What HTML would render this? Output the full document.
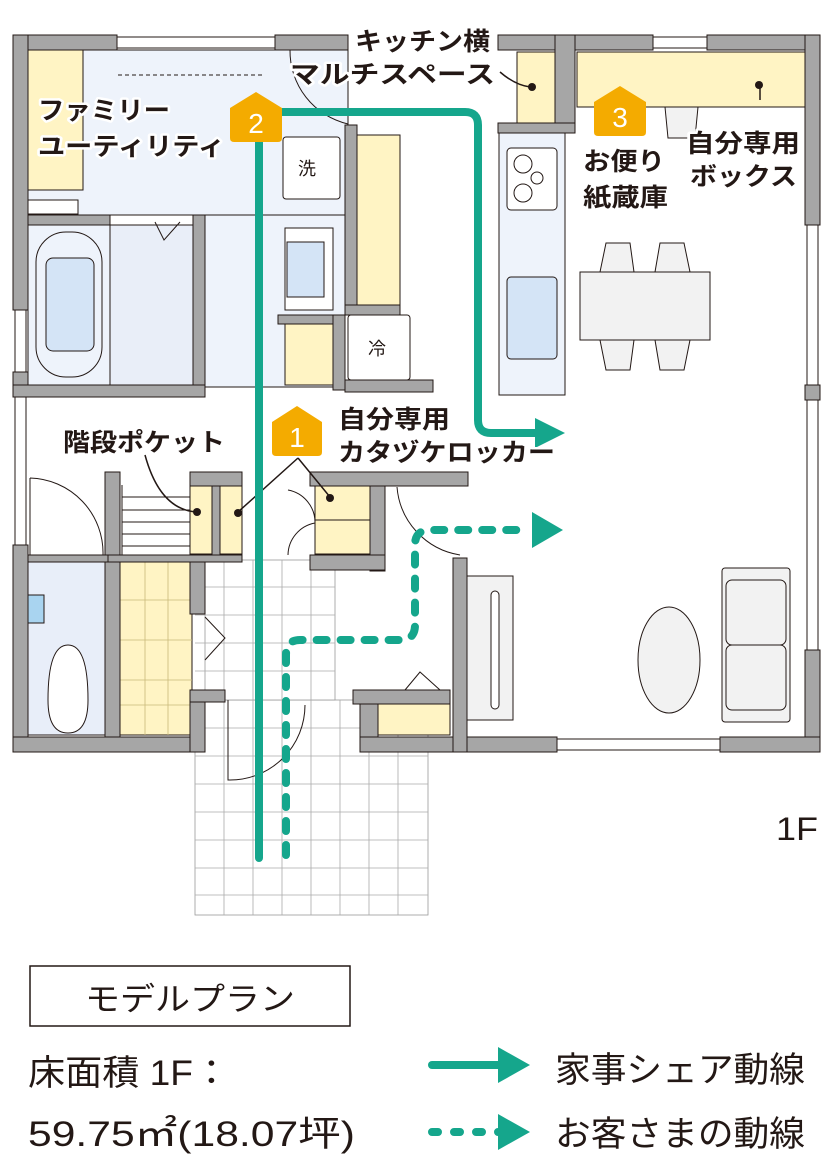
<!DOCTYPE html>
<html><head><meta charset="utf-8"><style>
html,body{margin:0;padding:0;background:#fff}
svg{display:block}
text{font-family:"Liberation Sans","Noto Sans CJK JP",sans-serif;fill:#231815}
</style></head><body>
<svg width="833" height="1172" viewBox="0 0 833 1172" xmlns="http://www.w3.org/2000/svg">
<g stroke="#231815" stroke-width="1">
<rect x="28" y="50" width="320" height="165" fill="#eef3fb"/>
<rect x="28" y="225" width="82" height="160" fill="#eef3fb"/>
<rect x="110" y="225" width="83" height="160" fill="#e9eef8"/>
<rect x="205" y="215" width="140" height="172" fill="#eef3fb"/>
<rect x="28" y="50" width="55" height="140" fill="#fff4c4"/>
<rect x="28" y="200" width="50" height="14" fill="#fff"/>
<rect x="28" y="562" width="78" height="173" fill="#e8eef9"/>
<g fill="#fff" stroke="#999" stroke-width="0.8">
<rect x="195" y="700" width="233" height="215"/>
<rect x="205" y="560" width="130" height="140"/>
</g>
<g stroke="#aaa" stroke-width="0.8">
<path d="M224 560V915M253 560V915M282 560V915M311 560V915M340 700V915M369 700V915M398 700V915M195 587H335M195 615H335M195 643H335M195 671H335M195 728H428M195 756H428M195 784H428M195 812H428M195 840H428M195 868H428M195 895H428"/>
</g>
<rect x="120" y="562" width="72" height="173" fill="#fff4c4"/>
<path d="M120 600H192M120 640H192M120 680H192M120 705H192M145 562V735M168 562V735" stroke="#c9b97a" stroke-width="0.8"/>
<rect x="190" y="486" width="22" height="68" fill="#fff4c4"/>
<rect x="220" y="486" width="22" height="68" fill="#fff4c4"/>
<rect x="315" y="486" width="55" height="68" fill="#fff4c4"/>
<path d="M315 520H370"/>
<rect x="378" y="697" width="72" height="38" fill="#fff4c4"/>
<rect x="357" y="135" width="43" height="170" fill="#fff4c4"/>
<rect x="285" y="322" width="48" height="63" fill="#fff4c4"/>
<rect x="517" y="52" width="38" height="71" fill="#fff4c4"/>
<rect x="577" y="52" width="228" height="55" fill="#fff4c4"/>
<rect x="499" y="133" width="66" height="262" fill="#eef3fb"/>
<rect x="507" y="148" width="50" height="62" rx="4" fill="#fff"/>
<circle cx="523" cy="164" r="9" fill="#fff"/><circle cx="537" cy="178" r="6" fill="#fff"/><circle cx="523" cy="193" r="9" fill="#fff"/>
<rect x="507" y="277" width="50" height="82" rx="4" fill="#d4e4f6"/>
<rect x="283" y="137" width="57" height="62" rx="3" fill="#fff"/>
<rect x="348" y="315" width="62" height="65" rx="3" fill="#fff"/>
<rect x="285" y="228" width="48" height="82" fill="#fff"/>
<rect x="287" y="242" width="37" height="55" fill="#d4e4f6"/>
<rect x="36" y="232" width="66" height="145" rx="30" fill="#eef3fb"/>
<rect x="46" y="258" width="48" height="93" rx="7" fill="#d4e4f6"/>
<path d="M48 700 Q48 645 68 645 Q88 645 88 700 Q88 733 68 733 Q48 733 48 700Z" fill="#fff"/>
<rect x="28" y="595" width="16" height="28" fill="#a9d4f0"/>
<rect x="580" y="272" width="130" height="68" fill="#f2f2f2"/>
<path d="M600 272 L606 243 H630 L634 272Z M655 272 L660 243 H684 L690 272Z M600 340 L606 370 H630 L634 340Z M655 340 L660 370 H684 L690 340Z" fill="#f2f2f2"/>
<path d="M665 107 L668 138 H695 L698 107Z" fill="#f2f2f2"/>
<rect x="467" y="576" width="46" height="144" fill="#f2f2f2"/>
<rect x="491" y="591" width="8" height="118" rx="4" fill="#fff"/>
<ellipse cx="669" cy="660" rx="31" ry="53" fill="#f2f2f2"/>
<rect x="722" y="568" width="68" height="154" rx="3" fill="#f2f2f2"/>
<rect x="726" y="580" width="60" height="65" rx="6" fill="#f2f2f2"/>
<rect x="726" y="645" width="60" height="65" rx="6" fill="#f2f2f2"/>
<path d="M122 485V555M122 497H190M122 510H190M122 522H190M122 534H190M122 546H190" fill="none"/>
<g fill="#a6a6a6">
<rect x="13" y="35" width="104" height="15"/>
<rect x="275" y="35" width="73" height="15"/>
<rect x="498" y="35" width="155" height="15"/>
<rect x="707" y="35" width="113" height="15"/>
<rect x="13" y="35" width="15" height="275"/>
<rect x="13" y="372" width="15" height="25"/>
<rect x="13" y="545" width="15" height="207"/>
<rect x="805" y="35" width="15" height="190"/>
<rect x="805" y="385" width="15" height="15"/>
<rect x="805" y="650" width="15" height="102"/>
<rect x="13" y="737" width="192" height="15"/>
<rect x="190" y="700" width="15" height="52"/>
<rect x="360" y="700" width="18" height="52"/>
<rect x="360" y="737" width="197" height="15"/>
<rect x="720" y="737" width="100" height="15"/>
<rect x="555" y="35" width="20" height="98"/>
<rect x="498" y="123" width="77" height="10"/>
<rect x="28" y="215" width="82" height="10"/>
<rect x="193" y="215" width="12" height="172"/>
<rect x="13" y="385" width="192" height="12"/>
<rect x="345" y="125" width="12" height="180"/>
<rect x="345" y="305" width="55" height="10"/>
<rect x="345" y="380" width="88" height="12"/>
<rect x="278" y="315" width="67" height="9"/>
<rect x="333" y="315" width="12" height="75"/>
<rect x="105" y="472" width="15" height="265"/>
<rect x="190" y="472" width="52" height="14"/>
<rect x="212" y="486" width="8" height="70"/>
<rect x="105" y="555" width="137" height="7"/>
<rect x="190" y="562" width="15" height="52"/>
<rect x="190" y="690" width="35" height="12"/>
<rect x="310" y="472" width="158" height="14"/>
<rect x="370" y="486" width="15" height="85"/>
<rect x="310" y="555" width="75" height="15"/>
<rect x="353" y="690" width="97" height="14"/>
<rect x="453" y="558" width="14" height="194"/>
<rect x="28" y="555" width="80" height="7"/>
</g>
<g fill="#fff">
<rect x="117" y="37" width="158" height="11"/>
<rect x="653" y="37" width="54" height="11"/>
<rect x="557" y="739" width="163" height="11"/>
<rect x="807" y="225" width="11" height="160"/>
<rect x="807" y="400" width="11" height="250"/>
<rect x="15" y="310" width="11" height="62"/>
<rect x="15" y="397" width="11" height="148"/>
</g>
<g fill="none">
<path d="M30 478 V555 M30 478 A75 75 0 0 1 103 555"/>
<path d="M397 487 A75 75 0 0 0 460 555"/>
<path d="M290 50 A75 75 0 0 0 348 124"/>
<path d="M228 700 V780 A75 75 0 0 0 305 705"/>
<path d="M288 490 A33 33 0 0 1 315 523 M288 555 A33 33 0 0 1 315 523"/>
<path d="M118 75 H265" stroke-dasharray="4 3"/>
<path d="M155 222 L164 240 L180 222 M205 617 L225 638 L205 660 M405 690 L420 672 L440 690"/>
</g>
</g>
<g stroke="#231815" stroke-width="1.5" fill="none">
<path d="M145 455 Q160 510 197 512"/>
<path d="M298 458 L238 512 M298 458 L330 497"/>
<path d="M500 72 Q515 85 530 87"/>
<path d="M760 85 V100"/>
</g>
<g fill="#231815"><circle cx="197" cy="512" r="4"/><circle cx="238" cy="513" r="4"/><circle cx="330" cy="498" r="4"/><circle cx="532" cy="87" r="4"/><circle cx="759" cy="85" r="4"/></g>
<g stroke="#15a68c" stroke-width="8" fill="none" stroke-linecap="round">
<path d="M259 858 V112 H465 Q478 112 478 125 V420 Q478 433 491 433 H540"/>
<path d="M286 855 V655 Q286 640 300 640 H400 Q415 640 415 625 V545 Q415 530 430 530 H530" stroke-dasharray="10 14"/>
<path d="M432 1065 H500"/>
<path d="M432 1132 H500" stroke-dasharray="6 16"/>
</g>
<g fill="#15a68c">
<path d="M535 418 L565 433 L535 448Z"/>
<path d="M532 512 L563 530 L532 548Z"/>
<path d="M498 1047 L530 1065 L498 1083Z"/>
<path d="M498 1114 L530 1132 L498 1150Z"/>
</g>
<g fill="#f4ab00">
<path d="M230 108 L256 92 L282 108 V138 Q282 142 278 142 H234 Q230 142 230 138Z"/>
<path d="M272 422 L297 406 L322 422 V452 Q322 456 318 456 H276 Q272 456 272 452Z"/>
<path d="M594 102 L620 86 L646 102 V132 Q646 136 642 136 H598 Q594 136 594 132Z"/>
</g>
<g font-size="28" text-anchor="middle"><text x="256" y="133" style="fill:#fff">2</text><text x="297" y="447" style="fill:#fff">1</text><text x="620" y="127" style="fill:#fff">3</text></g>
<g font-size="25" font-weight="bold" stroke="#fff" stroke-width="5" paint-order="stroke" stroke-linejoin="round">
<text x="355" y="50" textLength="135" lengthAdjust="spacingAndGlyphs">キッチン横</text>
<text x="290" y="83" textLength="205" lengthAdjust="spacingAndGlyphs">マルチスペース</text>
<text x="38" y="119" textLength="132" lengthAdjust="spacingAndGlyphs">ファミリー</text>
<text x="38" y="155" textLength="187" lengthAdjust="spacingAndGlyphs">ユーティリティ</text>
<text x="63" y="451" textLength="162" lengthAdjust="spacingAndGlyphs">階段ポケット</text>
<text x="338" y="428" textLength="112" lengthAdjust="spacingAndGlyphs">自分専用</text>
<text x="338" y="461" textLength="217" lengthAdjust="spacingAndGlyphs">カタヅケロッカー</text>
<text x="583" y="170" textLength="82" lengthAdjust="spacingAndGlyphs">お便り</text>
<text x="583" y="206" textLength="85" lengthAdjust="spacingAndGlyphs">紙蔵庫</text>
<text x="686" y="152" textLength="114" lengthAdjust="spacingAndGlyphs">自分専用</text>
<text x="690" y="185" textLength="107" lengthAdjust="spacingAndGlyphs">ボックス</text>
</g>
<text x="298" y="175" font-size="18">洗</text>
<text x="368" y="355" font-size="18">冷</text>
<text x="776" y="840" font-size="32" textLength="42" lengthAdjust="spacingAndGlyphs">1F</text>
<rect x="30" y="966" width="320" height="60" fill="none" stroke="#231815" stroke-width="1.5"/>
<text x="85" y="1010" font-size="32" textLength="210" lengthAdjust="spacingAndGlyphs">モデルプラン</text>
<text x="28" y="1085" font-size="35" textLength="202" lengthAdjust="spacingAndGlyphs">床面積 1F：</text>
<text x="28" y="1146" font-size="35" textLength="327" lengthAdjust="spacingAndGlyphs">59.75㎡(18.07坪)</text>
<text x="555" y="1082" font-size="35" textLength="250" lengthAdjust="spacingAndGlyphs">家事シェア動線</text>
<text x="555" y="1146" font-size="35" textLength="250" lengthAdjust="spacingAndGlyphs">お客さまの動線</text>
</svg>
</body></html>
